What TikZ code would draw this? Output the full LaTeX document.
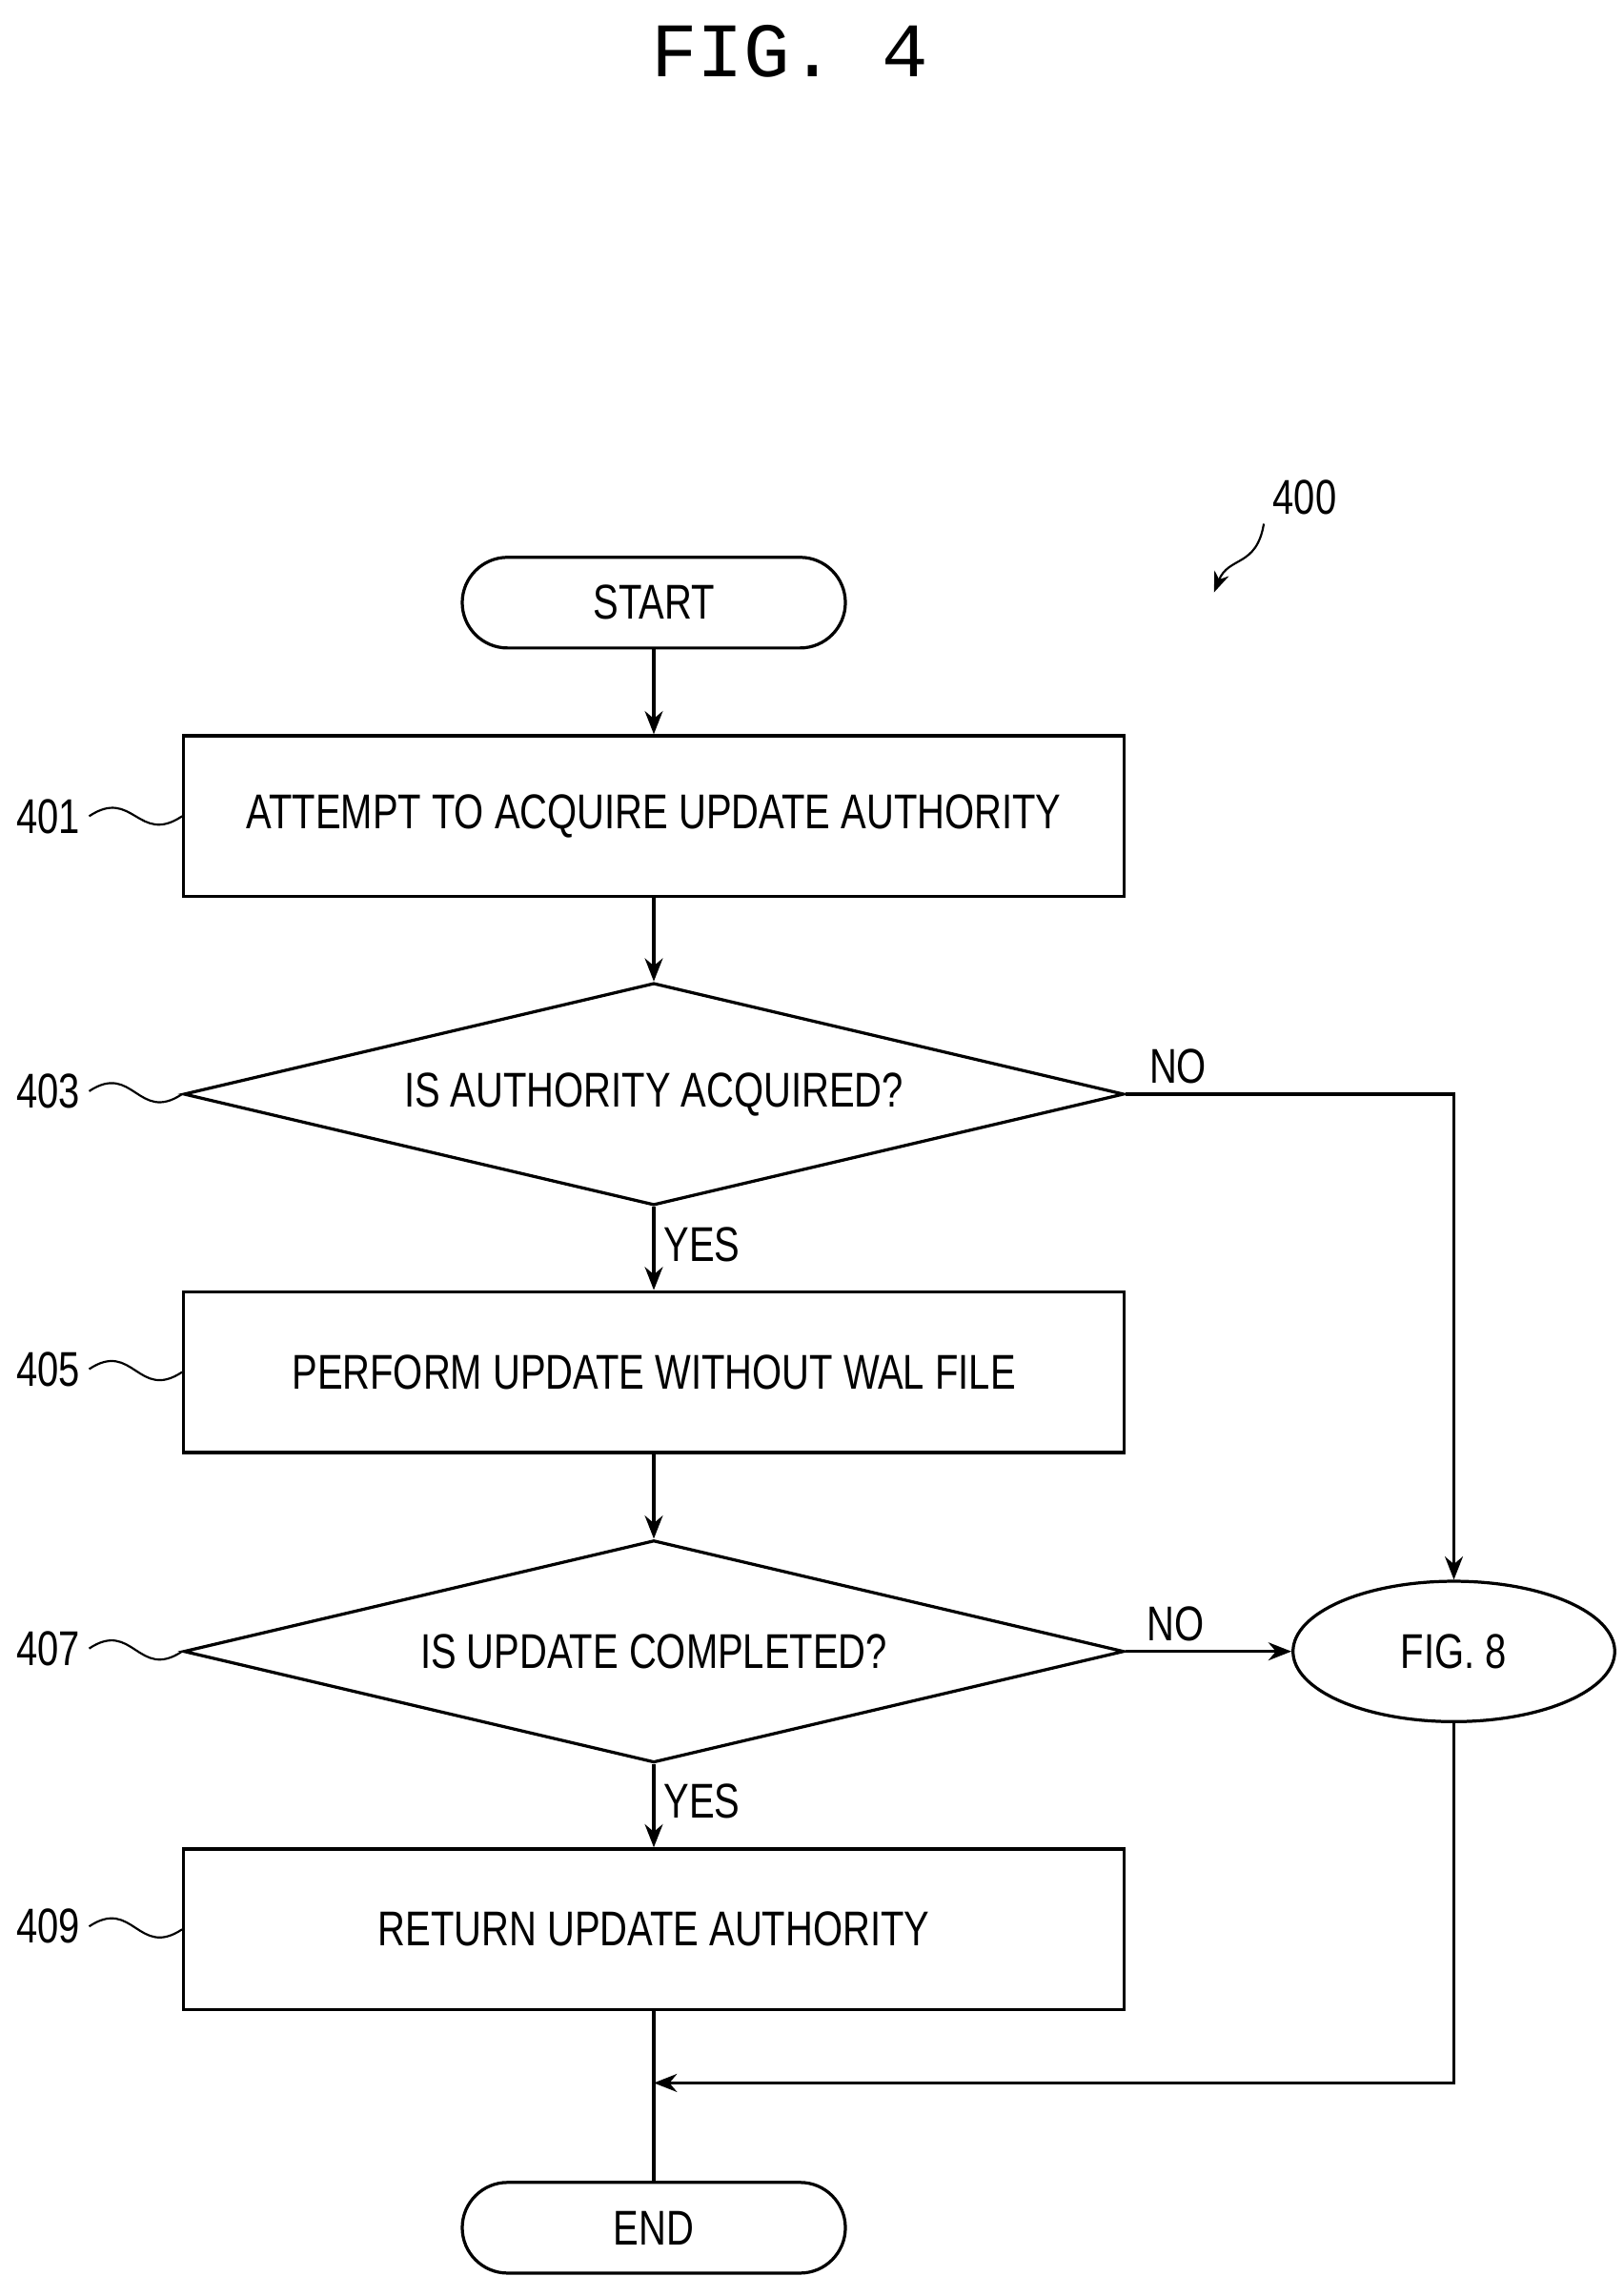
\documentclass[tikz,border=0pt]{standalone}
\usepackage{fontspec}
\setmainfont[FakeStretch=0.78]{Liberation Sans}
\newfontfamily\titlefont{Liberation Mono}
\usetikzlibrary{shapes.geometric,positioning,arrows.meta}

\tikzset{
  box/.style={draw, line width=1.2pt, minimum width=12.86cm, minimum height=2.2cm, font=\fontsize{19}{22}\selectfont},
  decision/.style={draw, line width=1.2pt, diamond, aspect=4.23, minimum width=12.86cm, minimum height=3.04cm, inner sep=0pt, font=\fontsize{19}{22}\selectfont},
  terminal/.style={draw, line width=1.2pt, rounded corners=0.62cm, minimum width=5.24cm, minimum height=1.24cm, font=\fontsize{19}{22}\selectfont},
  lbl/.style={font=\fontsize{19}{22}\selectfont},
  flow/.style={line width=1.2pt, -{Stealth[length=9pt,width=7pt]}},
  wave/.style={line width=0.8pt}
}

\begin{document}
\begin{tikzpicture}[x=0.02cm, y=-0.02cm]
  \useasboundingbox (0,0) rectangle (1110,1556);
  \node[font=\titlefont\fontsize{30}{34}\selectfont] (title) at (540,35) {FIG. 4};

  \node[lbl] (l400) at (892,340) {400};
  \coordinate (p400) at (830,405);
  \draw[wave, -{Stealth[length=8pt,width=6pt]}] (l400.south west) .. controls +(-5,30) and +(10,-25) .. (p400);

  \node[terminal] (start) at (447,412) {START};
  \node[box] (b401) at (447,558) {ATTEMPT TO ACQUIRE UPDATE AUTHORITY};
  \node[decision] (d403) at (447,748) {IS AUTHORITY ACQUIRED?};
  \node[box] (b405) at (447,938) {PERFORM UPDATE WITHOUT WAL FILE};
  \node[decision] (d407) at (447,1129) {IS UPDATE COMPLETED?};
  \node[box] (b409) at (447,1319) {RETURN UPDATE AUTHORITY};
  \node[terminal] (end) at (447,1523) {END};
  \node[draw, line width=1.2pt, ellipse, minimum width=4.4cm, minimum height=1.92cm, font=\fontsize{19}{22}\selectfont] (fig8) at (994,1129) {FIG. 8};

  % step numbers
  \node[lbl] (l401) at (33,558) {401};
  \node[lbl] (l403) at (33,746) {403};
  \node[lbl] (l405) at (33,936) {405};
  \node[lbl] (l407) at (33,1127) {407};
  \node[lbl] (l409) at (33,1317) {409};
  \draw[wave] (l401.east) .. controls +(30,-20) and +(-30,20) .. (b401.west);
  \draw[wave] (l403.east) .. controls +(30,-20) and +(-30,20) .. (d403.west);
  \draw[wave] (l405.east) .. controls +(30,-20) and +(-30,20) .. (b405.west);
  \draw[wave] (l407.east) .. controls +(30,-20) and +(-30,20) .. (d407.west);
  \draw[wave] (l409.east) .. controls +(30,-20) and +(-30,20) .. (b409.west);

  % connectors
  \draw[flow] (start) -- (b401);
  \draw[flow] (b401) -- (d403);
  \draw[flow] (d403) -- node[lbl, right, pos=0.45] {YES} (b405);
  \draw[flow] (b405) -- (d407);
  \draw[flow] (d407) -- node[lbl, right, pos=0.45] {YES} (b409);
  \draw[flow] (d403.east) -- node[lbl, above, pos=0.16] {NO} (d403.east -| fig8.north) -- (fig8.north);
  \draw[flow] (d407.east) -- node[lbl, above, pos=0.3] {NO} (fig8.west);
  \coordinate (join) at (447,1424);
  \draw[line width=1.2pt] (b409) -- (end);
  \draw[flow] (fig8.south) |- (join);
\end{tikzpicture}
\end{document}
